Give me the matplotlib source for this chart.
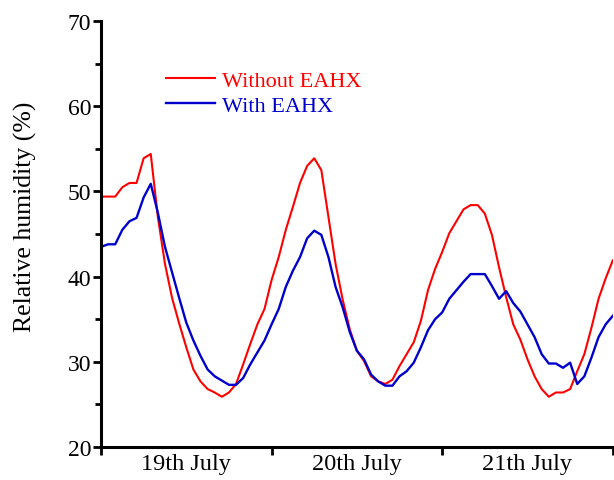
import numpy as np
import matplotlib
matplotlib.use('Agg')
import matplotlib.pyplot as plt
from matplotlib.ticker import FixedLocator

# hourly readings, 19th July 00:00 to 22nd July 00:00
hours = np.arange(73)

rh_without = [
    49.4, 49.4, 49.4, 50.5, 51.0, 51.0, 53.9, 54.4, 47.0, 41.5, 37.5, 34.5,
    31.7, 29.1, 27.7, 26.8, 26.4, 25.9, 26.4, 27.4, 29.7, 32.1, 34.4, 36.2,
    39.6, 42.3, 45.5, 48.2, 51.0, 53.0, 53.9, 52.5, 47.0, 41.5, 37.3, 33.8,
    31.3, 30.1, 28.3, 27.7, 27.4, 27.9, 29.5, 30.9, 32.3, 34.8, 38.4, 40.9,
    42.9, 45.1, 46.5, 47.9, 48.4, 48.4, 47.4, 44.9, 41.1, 37.6, 34.4, 32.6,
    30.3, 28.3, 26.8, 25.9, 26.4, 26.4, 26.8, 28.9, 30.9, 34.0, 37.4, 39.8,
    41.9,
]

rh_with = [
    43.5, 43.8, 43.8, 45.5, 46.5, 46.9, 49.3, 50.9, 47.5, 43.5, 40.5, 37.5,
    34.6, 32.5, 30.7, 29.1, 28.3, 27.8, 27.3, 27.3, 28.1, 29.7, 31.1, 32.5,
    34.4, 36.2, 38.8, 40.7, 42.3, 44.5, 45.4, 44.9, 42.3, 38.8, 36.4, 33.5,
    31.3, 30.3, 28.5, 27.7, 27.2, 27.2, 28.3, 28.9, 29.9, 31.7, 33.7, 35.0,
    35.8, 37.4, 38.4, 39.4, 40.3, 40.3, 40.3, 38.9, 37.4, 38.3, 36.9, 35.9,
    34.4, 32.9, 30.9, 29.8, 29.8, 29.3, 29.9, 27.4, 28.3, 30.5, 32.9, 34.4,
    35.4,
]

day_labels = ['19th July', '20th July', '21th July']

plt.rcParams['font.family'] = ['Liberation Serif', 'DejaVu Serif']

fig = plt.figure(figsize=(6.14, 4.81), dpi=100)
ax = fig.add_axes([0.1645, 0.0686, 0.8335, 0.8854])

ax.plot(hours, rh_without, color='#FF0000', lw=1.5, label='Without EAHX')
ax.plot(hours, rh_with, color='#0000CC', lw=1.7, label='With EAHX')

ax.set_xlim(0, 72)
ax.set_ylim(20, 70)

for side in ['top', 'right']:
    ax.spines[side].set_visible(False)
for side in ['left', 'bottom']:
    ax.spines[side].set_linewidth(2.2)

ax.set_yticks([20, 30, 40, 50, 60, 70])
ax.yaxis.set_minor_locator(FixedLocator([25, 35, 45, 55, 65]))
ax.tick_params(axis='y', which='major', length=6, width=2, labelsize=17, pad=1)
ax.tick_params(axis='y', which='minor', length=4, width=2)

# day boundaries get tick marks, day names sit between them
ax.set_xticks([0, 24, 48, 72])
ax.set_xticklabels([])
ax.xaxis.set_minor_locator(FixedLocator([12, 36, 60]))
ax.set_xticklabels(day_labels, minor=True)
ax.tick_params(axis='x', which='major', length=6, width=2)
ax.tick_params(axis='x', which='minor', length=0, labelsize=17.5, pad=4)

ax.set_ylabel('Relative humidity (%)', fontsize=18.5)
ax.yaxis.set_label_coords(-0.125, 0.542)

ax.legend(loc='upper left', bbox_to_anchor=(0.11, 0.905), frameon=False,
          fontsize=16, handlelength=2.2, handletextpad=0.3, labelspacing=0.18,
          labelcolor='linecolor', borderaxespad=0)

fig.savefig('out.png', dpi=100)
